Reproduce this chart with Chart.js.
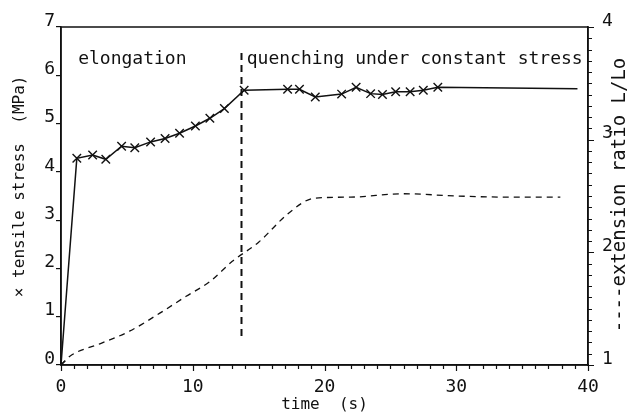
<!DOCTYPE html>
<html>
<head>
<meta charset="utf-8">
<script src="https://cdn.jsdelivr.net/npm/chart.js@4.4.0/dist/chart.umd.min.js"></script>
<style>
  html, body { margin: 0; padding: 0; background: #fff; }
  #contenedor { width: 632px; height: 416px; }
</style>
</head>
<body>
<div id="contenedor"><canvas id="grafica"></canvas></div>
<script>
// tensile stress (MPa) vs time (s), crosses
const tiempoTension = [0, 1.2, 2.4, 3.4, 4.6, 5.6, 6.8, 7.9, 9.0, 10.2, 11.3, 12.4, 13.9, 17.2, 18.1, 19.3, 21.3, 22.4, 23.5, 24.4, 25.4, 26.5, 27.5, 28.6, 39.2];
const tension = [0, 4.28, 4.35, 4.26, 4.53, 4.5, 4.62, 4.69, 4.8, 4.95, 5.11, 5.31, 5.69, 5.71, 5.71, 5.55, 5.61, 5.75, 5.62, 5.6, 5.66, 5.66, 5.69, 5.75, 5.72];

// extension ratio L/Lo (right axis), dashed
const tiempoExtension = [0, 0.7, 3, 5.2, 7.5, 9.5, 11.3, 13, 15, 17.3, 19.2, 22, 26, 30, 34, 37.9];
const extension = [1.0, 1.08, 1.19, 1.3, 1.46, 1.61, 1.74, 1.92, 2.09, 2.35, 2.48, 2.49, 2.52, 2.5, 2.49, 2.49];

// start of quenching (vertical dashed mark)
const tiempoTemple = [13.7, 13.7];
const marcaTemple = [0.6, 6.55];

// ticks and labels
const etiquetasX = [0, 10, 20, 30, 40];
const etiquetasY = [0, 1, 2, 3, 4, 5, 6, 7];
const etiquetasY2 = [1, 2, 3, 4];
const marcasX = Array.from({ length: 41 }, (_, i) => i);                    // every 1 s
const marcasY2 = Array.from({ length: 31 }, (_, i) => Math.round(10 + i) / 10); // every 0.1

const negro = '#111';
const fuente = '"DejaVu Sans Mono", monospace';

function puntos(xs, ys) {
    return xs.map((x, i) => ({ x: x, y: ys[i] }));
}

// marco, marcas menores y textos
const marco = {
    id: 'marco',
    afterDraw(chart) {
        const { ctx, chartArea: a, scales } = chart;
        ctx.save();
        ctx.strokeStyle = negro;
        ctx.lineWidth = 1.5;
        ctx.strokeRect(a.left, a.top, a.right - a.left, a.bottom - a.top);

        // marcas menores
        ctx.lineWidth = 1.2;
        ctx.beginPath();
        marcasX.forEach(v => {
            const px = Math.round(scales.x.getPixelForValue(v)) + 0.5;
            ctx.moveTo(px, a.bottom);
            ctx.lineTo(px, a.bottom + (etiquetasX.includes(v) ? 6 : 4));
        });
        marcasY2.forEach(v => {
            const py = Math.round(scales.y1.getPixelForValue(v)) + 0.5;
            ctx.moveTo(a.right, py);
            ctx.lineTo(a.right + (etiquetasY2.includes(v) ? 6 : 4), py);
        });
        ctx.stroke();

        ctx.fillStyle = negro;
        ctx.font = '18px ' + fuente;
        ctx.textBaseline = 'alphabetic';
        ctx.fillText('elongation', scales.x.getPixelForValue(1.3), 64);
        ctx.fillText('quenching under constant stress', scales.x.getPixelForValue(14.1), 64);

        // titulo eje derecho
        ctx.font = '19px ' + fuente;
        ctx.textAlign = 'center';
        ctx.textBaseline = 'middle';
        ctx.translate(620, 195);
        ctx.rotate(-Math.PI / 2);
        ctx.fillText('----extension ratio L/Lo', 0, 0);
        ctx.restore();
    }
};

const canvas = document.getElementById('grafica');
const ctx = canvas.getContext('2d');

const rejilla = { display: true, drawOnChartArea: false, drawTicks: true, tickLength: 5, color: negro, lineWidth: 1.2 };
const borde = { display: true, color: negro, width: 1.5 };

new Chart(ctx, {
    type: 'line',
    data: {
        datasets: [
            {
                label: 'tensile stress',
                data: puntos(tiempoTension, tension),
                yAxisID: 'y',
                borderColor: negro,
                borderWidth: 1.5,
                pointStyle: 'crossRot',
                pointRadius: (c) => c.dataIndex === tension.length - 1 ? 0 : 6,
                pointBorderColor: negro,
                pointBorderWidth: 1.4,
                fill: false,
                tension: 0
            },
            {
                label: 'extension ratio',
                data: puntos(tiempoExtension, extension),
                yAxisID: 'y1',
                borderColor: negro,
                borderWidth: 1.3,
                borderDash: [6, 5],
                pointRadius: 0,
                fill: false,
                cubicInterpolationMode: 'monotone'
            },
            {
                label: 'quenching',
                data: puntos(tiempoTemple, marcaTemple),
                yAxisID: 'y',
                borderColor: negro,
                borderWidth: 2,
                borderDash: [7, 5],
                pointRadius: 0,
                fill: false
            }
        ]
    },
    options: {
        responsive: true,
        maintainAspectRatio: false,
        animation: false,
        layout: { padding: { top: 27, left: 0, right: 0, bottom: 0 } },
        plugins: {
            legend: { display: false },
            tooltip: { enabled: false }
        },
        scales: {
            x: {
                type: 'linear',
                min: 0,
                max: 40,
                afterFit: (s) => { s.height = 51; },
                grid: { display: false },
                border: borde,
                ticks: {
                    stepSize: 10,
                    autoSkip: false,
                    maxRotation: 0,
                    padding: 4,
                    color: negro,
                    font: { family: fuente, size: 18 },
                    callback: (v) => etiquetasX.includes(v) ? String(v) : null
                },
                title: {
                    display: true,
                    text: 'time  (s)',
                    color: negro,
                    font: { family: fuente, size: 16 },
                    padding: { top: 0, bottom: 2 }
                }
            },
            y: {
                position: 'left',
                min: 0,
                max: 7,
                afterFit: (s) => { s.width = 61; },
                grid: rejilla,
                border: borde,
                ticks: {
                    stepSize: 1,
                    autoSkip: false,
                    padding: 1,
                    labelOffset: -6,
                    color: negro,
                    font: { family: fuente, size: 18 },
                    callback: (v) => etiquetasY.includes(v) ? String(v) : null
                },
                title: {
                    display: true,
                    text: '  × tensile stress  (MPa)',
                    color: negro,
                    font: { family: fuente, size: 16 },
                    padding: { top: 10, bottom: 0 }
                }
            },
            y1: {
                position: 'right',
                min: 1,
                max: 4,
                afterFit: (s) => { s.width = 44; },
                grid: { display: false },
                border: borde,
                ticks: {
                    stepSize: 1,
                    autoSkip: false,
                    padding: 6,
                    labelOffset: -6,
                    color: negro,
                    font: { family: fuente, size: 18 },
                    callback: (v) => etiquetasY2.includes(v) ? String(v) : null
                }
            }
        }
    },
    plugins: [marco]
});
</script>
</body>
</html>
